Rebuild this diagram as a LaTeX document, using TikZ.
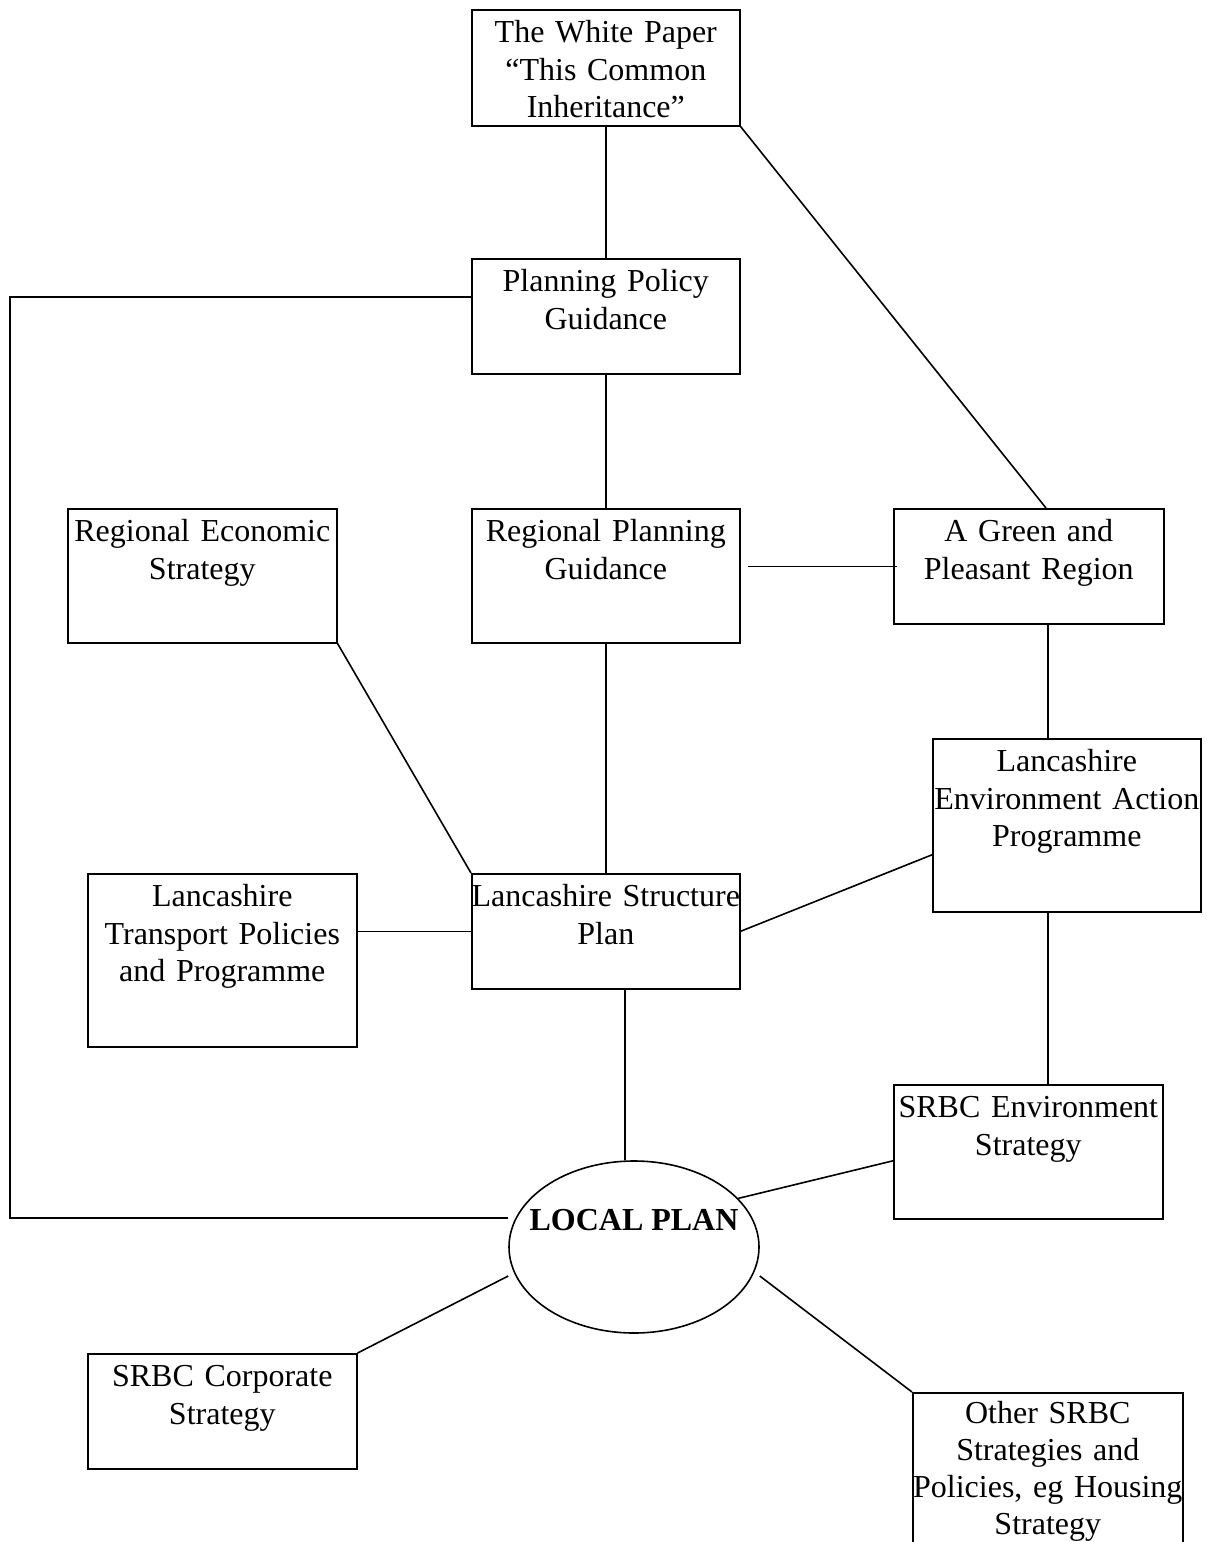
\documentclass[tikz,border=0pt]{standalone}
\usepackage{fontspec}
\setmainfont{Liberation Serif}
\usetikzlibrary{calc,shapes.geometric}
\tikzset{
  box/.style 2 args={draw, line width=1.6pt, inner ysep=0pt, inner xsep=-12pt, anchor=north west,
    text width=#1+24pt, minimum width=#1, align=center, text height=33pt, text depth=#2,
    font=\fontsize{32}{37.5}\selectfont},
  conn/.style={line width=1.6pt},
  oval/.style={draw, ellipse, line width=1.6pt, inner sep=0pt, minimum width=250pt, minimum height=172pt}
}
\begin{document}
\begin{tikzpicture}[x=1pt,y=-1pt]
\clip (0,0) rectangle (1207,1542);
\fill[white] (0,0) rectangle (1207,1542);
% boxes
\node[box={268pt}{83pt}] (wp) at (471,9) {The White Paper\\“This Common\\Inheritance”};
\node[box={268pt}{82pt}] (ppg) at (471,258) {Planning Policy\\Guidance};
\node[box={269pt}{101pt}] (res) at (67,508) {Regional Economic\\Strategy};
\node[box={268pt}{101pt}] (rpg) at (471,508) {Regional Planning\\Guidance};
\node[box={270pt}{82pt}] (gpr) at (893,508) {A Green and\\Pleasant Region};
\node[box={268pt}{140pt}] (leap) at (932,738) {Lancashire\\Environment Action\\Programme};
\node[box={269pt}{140pt}] (ltp) at (87,873) {Lancashire\\Transport Policies\\and Programme};
\node[box={268pt}{82pt}] (lsp) at (471,873) {Lancashire Structure\\Plan};
\node[box={269pt}{101pt}] (senv) at (893,1084) {SRBC Environment\\Strategy};
\node[box={269pt}{82pt}] (corp) at (87,1353) {SRBC Corporate\\Strategy};
\node[box={270pt}{167pt}, font=\fontsize{32}{36.8}\selectfont, text height=31pt] (other) at (912,1392) {Other SRBC\\Strategies and\\Policies, eg Housing\\Strategy};
% ellipse
\node[oval] (lp) at (634,1247) {};
\node[anchor=base, font=\fontsize{32}{37.5}\selectfont\bfseries] (lpt) at (634,1230) {LOCAL PLAN};
% connectors
\draw[conn] (wp.south) -- (ppg.north);
\draw[conn] (wp.south east) -- ($(gpr.north west)+(153,0)$);
\draw[conn] (ppg.south) -- (rpg.north);
\draw[conn] ($(ppg.north west)+(0,39)$) -- (10,297) -- (10,1218) -- ($(lp.west)+(0,-29)$);
\draw[conn] ($(rpg.east |- gpr.west)+(7,0)$) -- ($(gpr.west)+(4,0)$);
\draw[conn] ($(gpr.south west)+(155,0)$) -- ($(leap.north west)+(116,0)$);
\draw[conn] (res.south east) -- (lsp.north west);
\draw[conn] (rpg.south) -- (lsp.north);
\draw[conn] (lsp.west -| ltp.east) -- (lsp.west);
\draw[conn] (lsp.east) -- ($(leap.west)+(0,29.5)$);
\draw[conn] ($(leap.south west)+(116,0)$) coordinate (c1) -- (c1 |- senv.north);
\draw[conn] ($(lsp.south)+(19,0)$) coordinate (c2) -- (c2 |- lp.north);
\draw[conn] (lp.25) -- ($(senv.west)+(0,9)$);
\draw[conn] ($(lp.west)+(0,29)$) -- (corp.north east);
\draw[conn] ($(lp.east)+(0,29)$) -- (other.north west);
\end{tikzpicture}
\end{document}
